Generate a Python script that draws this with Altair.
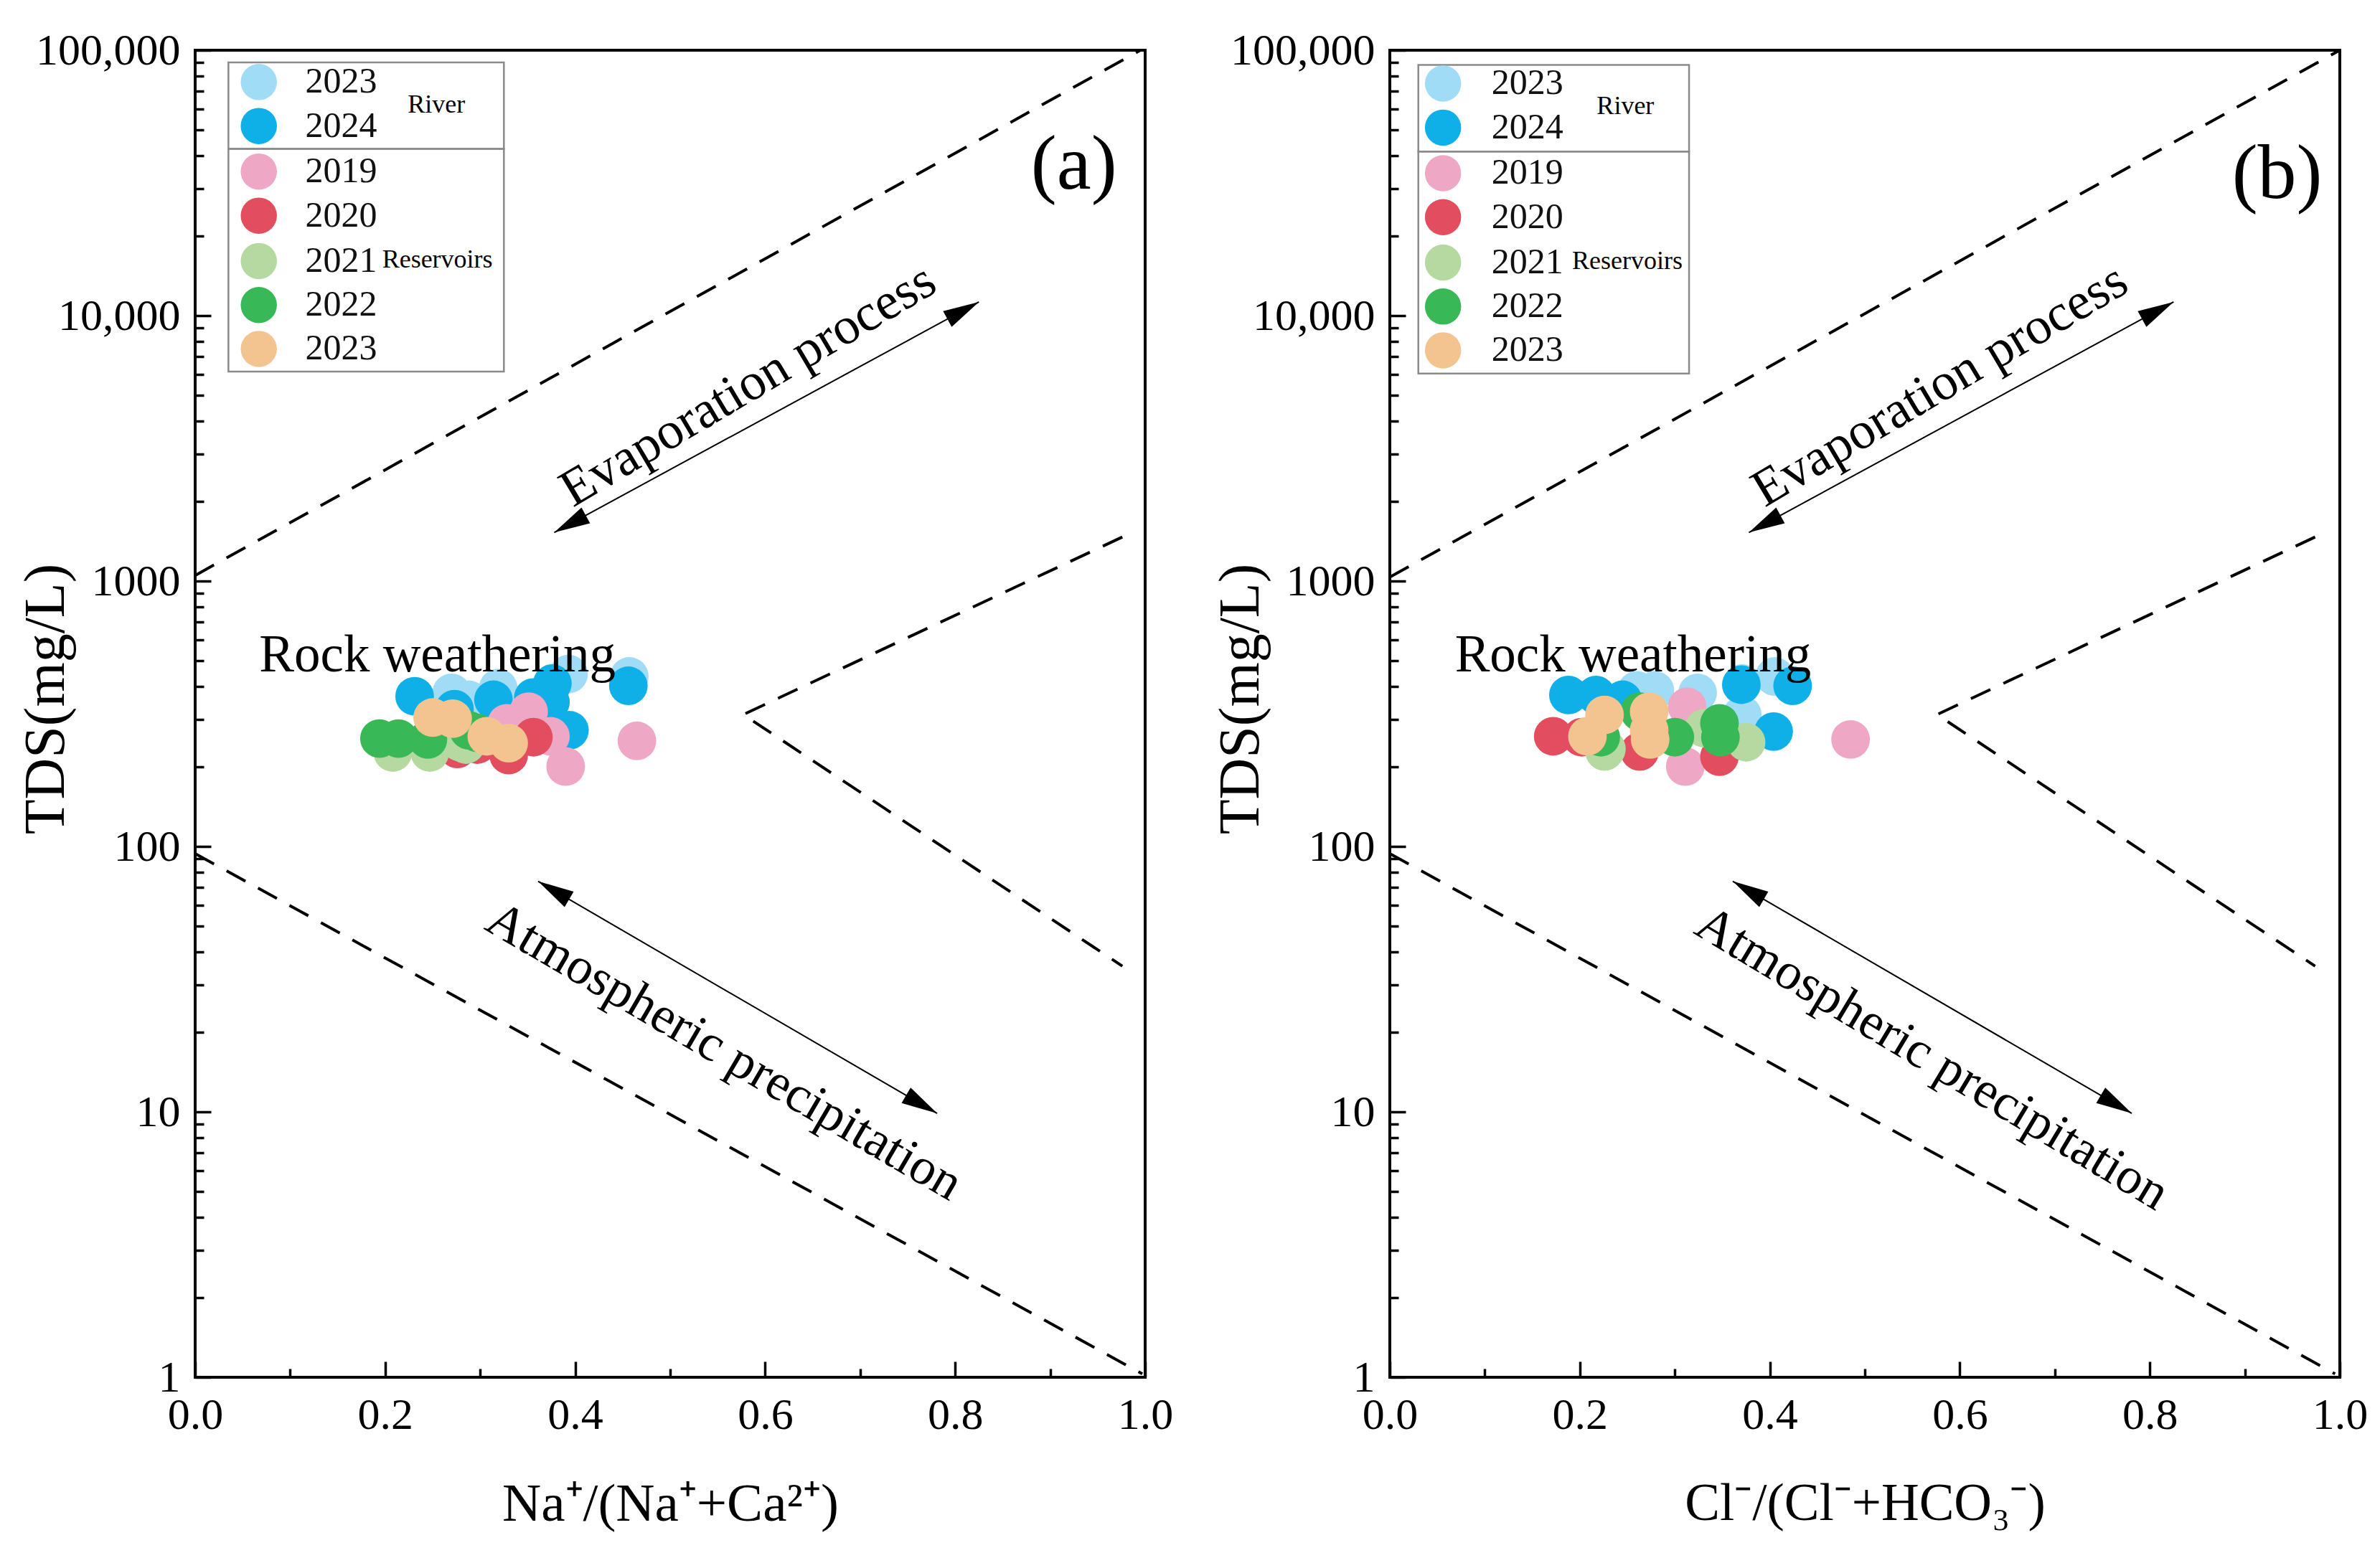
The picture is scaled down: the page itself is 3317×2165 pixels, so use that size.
import altair as alt
import pandas as pd

FONT = "Liberation Serif"
YEARS = ["2023", "2024", "2019", "2020", "2021", "2022", "2023"]
COLORS = ["#A0DCF5", "#0FAFE8", "#EFA7C6", "#E24D5F", "#B5D9A0", "#39B858", "#F3C48F"]

X_MAJOR = [0.0, 0.2, 0.4, 0.6, 0.8, 1.0]
X_MINOR = [0.1, 0.3, 0.5, 0.7, 0.9]
Y_MAJOR = [1, 10, 100, 1000, 10000, 100000]
Y_MINOR = [m * d for d in [1, 10, 100, 1000, 10000] for m in range(2, 10)]

# panel (a) series
A_X = [
    [.270, .288, .319, .393, .457],
    [.231, .273, .314, .356, .376, .374, .394, .456],
    [.328, .351, .374, .390, .465],
    [.356, .330, .276, .297],
    [.208, .247, .279, .285],
    [.194, .214, .245, .288, .297],
    [.250, .271, .307, .330],
]
A_Y = [
    [379, 357, 395, 446, 437],
    [368, 329, 357, 364, 411, 350, 274, 403],
    [291, 322, 260, 200, 250],
    [258, 221, 233, 242],
    [226, 226, 247, 242],
    [255, 255, 253, 274, 268],
    [306, 303, 260, 245],
]
# panel (b) series
B_X = [
    [.260, .279, .324, .371, .405, .371],
    [.188, .217, .245, .370, .424, .404],
    [.313, .311, .485],
    [.172, .202, .263, .347],
    [.228, .331, .375, .226],
    [.222, .263, .300, .347, .348],
    [.226, .208, .273, .274, .273],
]
B_Y = [
    [387, 387, 379, 313, 437, 411],
    [372, 372, 357, 407, 403, 271],
    [336, 200, 253],
    [260, 258, 228, 218],
    [233, 279, 247, 228],
    [258, 322, 258, 291, 258],
    [313, 260, 322, 253, 274],
]

LEGEND_Y_A = [75900, 51800, 34900, 23800, 16060, 10960, 7490]
LEGEND_Y_B = [74900, 51100, 34400, 23500, 15850, 10820, 7400]

UP_X_A, UP_Y_A = [0.0, 0.995], [1050, 100000]
LOW_X_A, LOW_Y_A = [0.0, 0.997], [94, 1.03]
CHEV_X_A, CHEV_Y_A = [0.976, 0.577, 0.976], [1465, 314, 35.4]
UP_X_B, UP_Y_B = [0.0, 1.0], [1035, 100000]
LOW_X_B, LOW_Y_B = [0.0, 0.995], [94, 1.03]
CHEV_X_B, CHEV_Y_B = [0.974, 0.576, 0.974], [1465, 314, 35.4]

EVAP_X, EVAP_Y = [0.378, 0.825], [1524, 11260]
ATM_X, ATM_Y = [0.361, 0.781], [73.9, 9.87]
EVAP_ANGLES = [241.5, 61.5]
ATM_ANGLES = [300.2, 120.2]

XD = [0, 1]
YD = [1, 100000]


def X(axis=None, field="x"):
    return alt.X(f"{field}:Q", scale=alt.Scale(domain=XD), axis=axis)


def Y(axis=None, field="y"):
    return alt.Y(f"{field}:Q", scale=alt.Scale(type="log", domain=YD), axis=axis)


def xy(xs, ys, **extra):
    d = pd.DataFrame({"x": xs, "y": ys})
    for k, v in extra.items():
        d[k] = v
    return d


def panel(letter, xs, ys, xtitle, xtsize, up, low, chev, lx, lty, ly, box, river, resv,
          evap_c, atm_c, rock_c, tag_c, evap_a, atm_a):
    layers = []
    tick = dict(domain=False, grid=False, tickColor="black", tickWidth=3.5)
    # minor ticks
    minor_x = alt.Axis(orient="bottom", values=X_MINOR, labels=False, tickSize=12, offset=-12, title=None, **tick)
    minor_y = alt.Axis(orient="left", values=Y_MINOR, labels=False, tickSize=12, offset=-12, title=None, **tick)
    layers.append(alt.Chart(xy(up[0], up[1])).mark_line(opacity=0).encode(x=X(minor_x), y=Y(minor_y)))
    major_x = alt.Axis(orient="bottom", values=X_MAJOR, format=".1f", tickSize=22, offset=-22, labelPadding=22,
                       labelFlush=False, labelFont=FONT, labelFontSize=62, labelColor="black", title=xtitle,
                       titleFont=FONT, titleFontSize=xtsize, titleFontWeight="normal", titleColor="black",
                       titlePadding=57, **tick)
    major_y = alt.Axis(orient="left", values=Y_MAJOR, tickSize=22, offset=-22, labelPadding=21, labelLimit=400,
                       labelFlush=False,
                       labelExpr="datum.value >= 10000 ? format(datum.value, ',') : format(datum.value, 'd')",
                       labelFont=FONT, labelFontSize=62, labelColor="black", title="TDS(mg/L)",
                       titleFont=FONT, titleFontSize=80, titleFontWeight="normal", titleColor="black",
                       titlePadding=-11, titleY=904, **tick)
    layers.append(alt.Chart(xy(up[0], up[1])).mark_line(color="black", strokeWidth=4, strokeDash=[30, 20]).encode(
        x=X(major_x), y=Y(major_y)))
    for seg in (low, chev):
        layers.append(alt.Chart(xy(seg[0], seg[1])).mark_line(color="black", strokeWidth=4, strokeDash=[30, 20], order=False).encode(
            x=X(), y=Y()))
    # arrows
    for ax, ay, ang in ((EVAP_X, EVAP_Y, EVAP_ANGLES), (ATM_X, ATM_Y, ATM_ANGLES)):
        layers.append(alt.Chart(xy(ax, ay)).mark_line(color="black", strokeWidth=2, order=False).encode(x=X(), y=Y()))
        for i in range(2):
            layers.append(alt.Chart(xy([ax[i]], [ay[i]])).mark_point(
                shape="M0,0L0.5,2L-0.5,2Z", filled=True, fill="black", strokeWidth=0, opacity=1,
                size=2500, angle=ang[i]).encode(x=X(), y=Y()))
    # scatter
    for i in range(7):
        layers.append(alt.Chart(xy(xs[i], ys[i])).mark_circle(size=2900, opacity=1, color=COLORS[i]).encode(x=X(), y=Y()))
    # legend boxes
    for b in box:
        layers.append(alt.Chart(pd.DataFrame([b])).mark_rect(fill=None, stroke="#8a8a8a", strokeWidth=2.5).encode(
            x=X(field="x"), x2="x2:Q", y=Y(field="y"), y2="y2:Q"))
    for i in range(7):
        layers.append(alt.Chart(xy([lx], [ly[i]])).mark_circle(size=2550, opacity=1, color=COLORS[i]).encode(x=X(), y=Y()))
        layers.append(alt.Chart(xy([lty], [ly[i]], t=YEARS[i])).mark_text(
            font=FONT, fontSize=50, align="left", baseline="middle", color="#111").encode(x=X(), y=Y(), text="t:N"))
    for (tx, ty, t, size, angle) in [
        (river[0], river[1], "River", 36, 0),
        (resv[0], resv[1], "Reservoirs", 36, 0),
        (evap_c[0], evap_c[1], "Evaporation process", 73, evap_a),
        (atm_c[0], atm_c[1], "Atmospheric precipitation", 72, atm_a),
        (rock_c[0], rock_c[1], "Rock weathering", 73, 0),
        (tag_c[0], tag_c[1], letter, 108, 0),
    ]:
        layers.append(alt.Chart(xy([tx], [ty], t=t)).mark_text(
            font=FONT, fontSize=size, align="center", baseline="middle", color="black", angle=angle).encode(
            x=X(), y=Y(), text="t:N"))
    return alt.layer(*layers).resolve_axis(x="independent", y="independent").properties(width=1324, height=1850)


left = panel("(a)", A_X, A_Y, "Na\u207a/(Na\u207a+Ca\u00b2\u207a)", 75,
             (UP_X_A, UP_Y_A), (LOW_X_A, LOW_Y_A), (CHEV_X_A, CHEV_Y_A),
             .067, .116, LEGEND_Y_A,
             [dict(x=.035, x2=.325, y=42500, y2=90000), dict(x=.035, x2=.325, y=6150, y2=42500)],
             (.254, 62200), (.255, 16260), (.582, 5458), (.557, 16.9), (.255, 525), (.925, 36800), 329.3, 30.3)
right = panel("(b)", B_X, B_Y, "Cl\u207b/(Cl\u207b+HCO\u2083\u207b)", 73,
              (UP_X_B, UP_Y_B), (LOW_X_B, LOW_Y_B), (CHEV_X_B, CHEV_Y_B),
              .056, .107, LEGEND_Y_B,
              [dict(x=.030, x2=.315, y=41500, y2=88000), dict(x=.030, x2=.315, y=6050, y2=41500)],
              (.248, 61400), (.25, 16000), (.579, 5458), (.571, 15.9), (.256, 525), (.934, 33900), 329.3, 31)

chart = alt.hconcat(left, right, spacing=50).properties(
    background="white", padding={"left": 14, "top": 29, "right": 0, "bottom": 0}
).configure_view(stroke="black", strokeWidth=4)

chart.save("out.html", embed_options={"renderer": "svg", "actions": False})
